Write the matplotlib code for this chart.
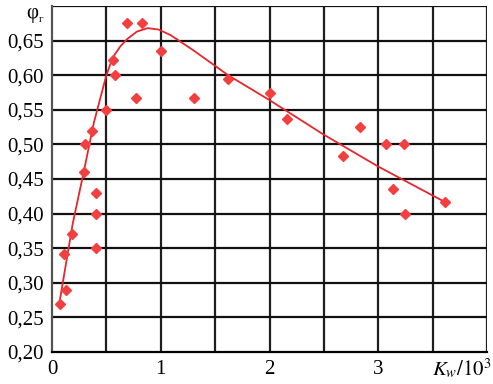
import matplotlib
matplotlib.use('Agg')
import matplotlib.pyplot as plt

# measured points
k_w = [0.07, 0.13, 0.11, 0.18, 0.29, 0.30, 0.37, 0.40, 0.40, 0.40,
       0.50, 0.56, 0.58, 0.69, 0.77, 0.83, 1.00, 1.31, 1.62, 2.00,
       2.16, 2.83, 2.68, 3.07, 3.24, 3.14, 3.25, 3.61]
phi = [0.270, 0.290, 0.342, 0.370, 0.460, 0.500, 0.520, 0.430, 0.400, 0.350,
       0.550, 0.622, 0.600, 0.676, 0.567, 0.676, 0.635, 0.567, 0.594, 0.575,
       0.537, 0.525, 0.483, 0.500, 0.500, 0.435, 0.400, 0.417]

# fitted curve
fit_x = [0.067, 0.19, 0.294, 0.386, 0.50, 0.56, 0.63, 0.69, 0.78, 0.88,
         0.98, 1.09, 1.30, 1.62, 2.00, 2.50, 3.00, 3.61]
fit_y = [0.270, 0.385, 0.462, 0.532, 0.600, 0.626, 0.642, 0.652, 0.663, 0.668,
         0.666, 0.658, 0.636, 0.600, 0.564, 0.514, 0.468, 0.417]

y_ticks = [0.20, 0.25, 0.30, 0.35, 0.40, 0.45, 0.50, 0.55, 0.60, 0.65]
x_ticks = [0, 1, 2, 3]

plt.rcParams['font.family'] = 'serif'
plt.rcParams['font.serif'] = ['Liberation Serif', 'DejaVu Serif']
plt.rcParams['mathtext.fontset'] = 'stix'

fig = plt.figure(figsize=(4.93, 3.84), dpi=100)
ax = fig.add_axes([52/493, 32/384, 435/493, 346/384])

ax.set_xlim(0, 4)
ax.set_ylim(0.20, 0.70)
for xv in [0.5, 1, 1.5, 2, 2.5, 3, 3.5, 4]:
    ax.axvline(xv, color='#1e1e1e', lw=1.6, zorder=1)
for yv in y_ticks[1:] + [0.70]:
    ax.axhline(yv, color='#111111', lw=1.6, zorder=1)

ax.plot(fit_x, fit_y, color='#e5262c', lw=1.3, zorder=2)
ax.plot(k_w, phi, linestyle='none', marker='D', ms=5.5, color='#f24040', zorder=3)

ax.set_xticks(x_ticks)
ax.set_xticklabels([str(v) for v in x_ticks])
ax.set_yticks(y_ticks)
ax.set_yticklabels([('%.2f' % v).replace('.', ',') for v in y_ticks])
ax.tick_params(length=0, labelsize=15, pad=6)

for s in ['top', 'right']:
    ax.spines[s].set_visible(False)
ax.spines['left'].set_color('#555555')
ax.spines['left'].set_linewidth(1.6)
ax.spines['bottom'].set_linewidth(1.6)

fig.text(432/493, 1 - 376/384, r'$K_w/10^3$', fontsize=15, ha='left', va='baseline')
fig.text(26/493, 1 - 18/384, 'φ', fontsize=15, ha='left', va='baseline')
fig.text(39/493, 1 - 22/384, 'г', fontsize=8, ha='left', va='baseline')

fig.savefig('out.png', dpi=100)
